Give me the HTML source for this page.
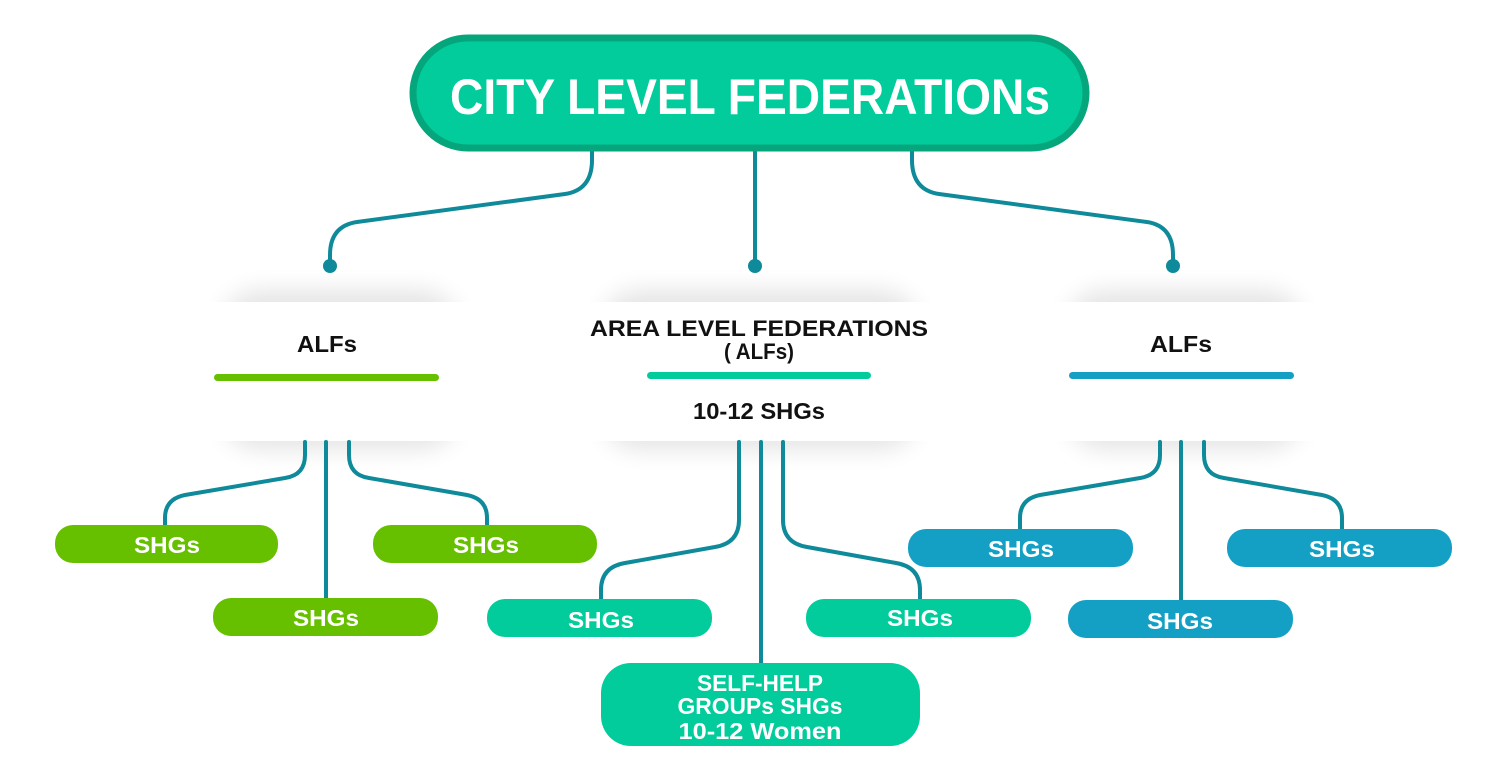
<!DOCTYPE html>
<html><head><meta charset="utf-8"><style>
html,body{margin:0;padding:0;background:#fff;}
svg{display:block;}
text{font-family:"Liberation Sans",sans-serif;font-weight:bold;}
</style></head><body>
<svg width="1500" height="759" viewBox="0 0 1500 759" xmlns="http://www.w3.org/2000/svg">
<defs>
<filter id="sh" x="-20%" y="-50%" width="140%" height="200%"><feGaussianBlur stdDeviation="12"/></filter>
</defs>
<!-- card shadows -->
<g fill="#000" opacity="0.10" filter="url(#sh)">
<rect x="220" y="290" width="240" height="160" rx="40"/>
<rect x="600" y="290" width="320" height="160" rx="40"/>
<rect x="1065" y="290" width="240" height="160" rx="40"/>
</g>
<rect x="185" y="302" width="300" height="139" fill="#fff"/>
<rect x="555" y="302" width="400" height="139" fill="#fff"/>
<rect x="1025" y="302" width="320" height="139" fill="#fff"/>

<g fill="none" stroke="#0e8a9a" stroke-width="4" stroke-linecap="round">
<!-- top connectors -->
<path d="M592 150 V160 Q592 190 565 194 L357 222 Q330 226 330 255 V266"/>
<path d="M755 150 V266"/>
<path d="M912 150 V160 Q912 190 939 194 L1147 222 Q1173 226 1173 255 V266"/>
<!-- left group -->
<path d="M305 442 V455 Q305 475 285 478 L185 495 Q165 499 165 518 V526"/>
<path d="M326 442 V600"/>
<path d="M349 442 V455 Q349 475 369 478 L467 495 Q487 499 487 518 V526"/>
<!-- middle group -->
<path d="M739 442 V520 Q739 543 715 547 L625 563 Q601 567 601 590 V600"/>
<path d="M761 442 V665"/>
<path d="M783 442 V520 Q783 543 807 547 L896 563 Q920 567 920 590 V600"/>
<!-- right group -->
<path d="M1160 442 V455 Q1160 475 1140 478 L1040 495 Q1020 499 1020 518 V530"/>
<path d="M1181 442 V601"/>
<path d="M1204 442 V455 Q1204 475 1224 478 L1322 495 Q1342 499 1342 518 V530"/>
</g>
<g fill="#0e8a9a">
<circle cx="330" cy="266" r="7"/><circle cx="755" cy="266" r="7"/><circle cx="1173" cy="266" r="7"/>
</g>

<!-- title -->
<rect x="413" y="38" width="673" height="110" rx="55" fill="#02cc9c" stroke="#05a67c" stroke-width="7"/>
<text x="750" y="114" text-anchor="middle" font-size="50" fill="#fff" textLength="600" lengthAdjust="spacingAndGlyphs">CITY LEVEL FEDERATIONs</text>

<!-- card contents -->
<text x="327" y="352" text-anchor="middle" font-size="23" fill="#111" textLength="60" lengthAdjust="spacingAndGlyphs">ALFs</text>
<rect x="214" y="374" width="225" height="7" rx="3.5" fill="#66c000"/>
<text x="759" y="336" text-anchor="middle" font-size="22" fill="#111" textLength="338" lengthAdjust="spacingAndGlyphs">AREA LEVEL FEDERATIONS</text>
<text x="759" y="359" text-anchor="middle" font-size="22" fill="#111" textLength="70" lengthAdjust="spacingAndGlyphs">( ALFs)</text>
<rect x="647" y="372" width="224" height="7" rx="3.5" fill="#02cc9c"/>
<text x="759" y="419" text-anchor="middle" font-size="23" fill="#111" textLength="132" lengthAdjust="spacingAndGlyphs">10-12 SHGs</text>
<text x="1181" y="352" text-anchor="middle" font-size="23" fill="#111" textLength="62" lengthAdjust="spacingAndGlyphs">ALFs</text>
<rect x="1069" y="372" width="225" height="7" rx="3.5" fill="#14a0c4"/>

<!-- SHG boxes -->
<g font-size="23" fill="#fff" text-anchor="middle">
<rect x="55" y="525" width="223" height="38" rx="18" fill="#66c000"/><text x="167" y="553" textLength="66" lengthAdjust="spacingAndGlyphs">SHGs</text>
<rect x="373" y="525" width="224" height="38" rx="18" fill="#66c000"/><text x="486" y="553" textLength="66" lengthAdjust="spacingAndGlyphs">SHGs</text>
<rect x="213" y="598" width="225" height="38" rx="18" fill="#66c000"/><text x="326" y="626" textLength="66" lengthAdjust="spacingAndGlyphs">SHGs</text>

<rect x="487" y="599" width="225" height="38" rx="18" fill="#02cc9c"/><text x="601" y="628" textLength="66" lengthAdjust="spacingAndGlyphs">SHGs</text>
<rect x="806" y="599" width="225" height="38" rx="18" fill="#02cc9c"/><text x="920" y="626" textLength="66" lengthAdjust="spacingAndGlyphs">SHGs</text>
<rect x="601" y="663" width="319" height="83" rx="30" fill="#02cc9c"/>
<text x="760" y="691" textLength="126" lengthAdjust="spacingAndGlyphs">SELF-HELP</text>
<text x="760" y="714" textLength="165" lengthAdjust="spacingAndGlyphs">GROUPs SHGs</text>
<text x="760" y="739" textLength="163" lengthAdjust="spacingAndGlyphs">10-12 Women</text>

<rect x="908" y="529" width="225" height="38" rx="18" fill="#14a0c4"/><text x="1021" y="557" textLength="66" lengthAdjust="spacingAndGlyphs">SHGs</text>
<rect x="1227" y="529" width="225" height="38" rx="18" fill="#14a0c4"/><text x="1342" y="557" textLength="66" lengthAdjust="spacingAndGlyphs">SHGs</text>
<rect x="1068" y="600" width="225" height="38" rx="18" fill="#14a0c4"/><text x="1180" y="629" textLength="66" lengthAdjust="spacingAndGlyphs">SHGs</text>
</g>
</svg>
</body></html>
